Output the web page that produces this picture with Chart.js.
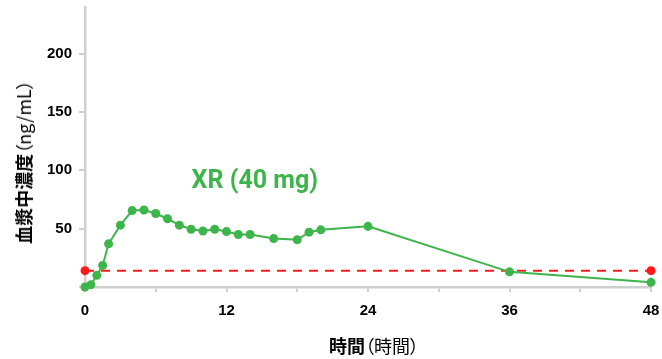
<!DOCTYPE html>
<html>
<head>
<meta charset="utf-8">
<script src="https://cdn.jsdelivr.net/npm/chart.js@4.4.1/dist/chart.umd.min.js"></script>
<style>
  html, body { margin: 0; padding: 0; background: #fff; }
  #wrap { position: relative; width: 662px; height: 359px; }
  canvas { position: absolute; left: 0; top: 0; }
  .ttl { position: absolute; white-space: nowrap; color: #000; font-size: 18px;
         font-family: "Noto Sans CJK JP", "Liberation Sans", sans-serif; font-feature-settings: "palt"; line-height: 1; }
  .ttl b { font-weight: 700; }
  .ttl span { font-weight: 400; }
  #ytitle { left: 23px; top: 162px; transform: translate(-50%, -50%) rotate(-90deg); }
  #xtitle { left: 374px; top: 345px; transform: translate(-50%, -50%); }
</style>
</head>
<body>
<div id="wrap">
  <canvas id="c" width="662" height="359"></canvas>
  <div class="ttl" id="ytitle"><b>血漿中濃度</b><span>（ng/mL）</span></div>
  <div class="ttl" id="xtitle"><b>時間</b><span>（時間）</span></div>
</div>
<script>
// ---- data ----
const hours = [0, 0.5, 1, 1.5, 2, 3, 4, 5, 6, 7, 8, 9, 10, 11, 12, 13, 14, 16, 18, 19, 20, 24, 36, 48];
const concentration = [0, 2, 10, 18.5, 37, 53, 65.5, 66, 63, 58.5, 53, 49.5, 48, 49.5, 47.5, 45, 45, 41.5, 40.5, 47, 49, 52, 13, 4];
const thresholdHours = [0, 48];
const thresholdValue = [14, 14];
const xTickLabels = [0, 12, 24, 36, 48];
const yTickLabels = [50, 100, 150, 200];
const seriesLabel = "XR (40 mg)";
const labelAnchor = { x: 14.4, y: 90 };

const green = '#3db54a';
const red = '#ff1a1a';
const axisGrey = '#cfcfcf';

const annotationPlugin = {
  id: 'seriesLabel',
  afterDatasetsDraw(chart) {
    const { ctx, scales } = chart;
    const px = scales.x.getPixelForValue(labelAnchor.x);
    const py = scales.y.getPixelForValue(labelAnchor.y);
    ctx.save();
    ctx.font = 'bold 25px Roboto, "Liberation Sans", sans-serif';
    ctx.fillStyle = green;
    ctx.textAlign = 'center';
    ctx.textBaseline = 'middle';
    ctx.fillText(seriesLabel, px, py);
    ctx.restore();
  }
};

new Chart(document.getElementById('c'), {
  type: 'line',
  data: {
    datasets: [
      {
        label: seriesLabel,
        data: hours.map((h, i) => ({ x: h, y: concentration[i] })),
        borderColor: green,
        backgroundColor: green,
        borderWidth: 2,
        pointRadius: 4.5,
        pointBorderWidth: 0,
        tension: 0,
        clip: false,
        order: 0
      },
      {
        label: 'threshold',
        data: thresholdHours.map((h, i) => ({ x: h, y: thresholdValue[i] })),
        borderColor: red,
        backgroundColor: red,
        borderWidth: 2,
        borderDash: [9, 7],
        pointRadius: 4.5,
        pointBorderWidth: 0,
        clip: false,
        order: 1
      }
    ]
  },
  plugins: [annotationPlugin],
  options: {
    responsive: false,
    animation: false,
    layout: { padding: { left: 40, right: 11, top: 7, bottom: 42 } },
    plugins: { legend: { display: false }, tooltip: { enabled: false } },
    scales: {
      x: {
        type: 'linear',
        min: 0, max: 48,
        afterFit(s) { s.height = 30; s.paddingLeft = 0; s.paddingRight = 0; },
        border: { color: axisGrey, width: 2.5 },
        grid: { drawOnChartArea: false, drawTicks: true, tickLength: 5, color: axisGrey, lineWidth: 2 },
        ticks: {
          stepSize: 6,
          padding: 10,
          maxRotation: 0,
          autoSkip: false,
          color: '#000',
          font: { family: '"Liberation Sans", Arial, sans-serif', size: 15, weight: 'bold' },
          callback: v => xTickLabels.includes(v) ? String(v) : ''
        }
      },
      y: {
        type: 'linear',
        min: 0, max: 240,
        afterFit(s) { s.width = 45; s.paddingTop = 0; s.paddingBottom = 0; },
        border: { color: axisGrey, width: 2.5 },
        grid: { drawOnChartArea: false, drawTicks: true, tickLength: 6, color: axisGrey, lineWidth: 2 },
        ticks: {
          stepSize: 50,
          includeBounds: false,
          padding: 7,
          color: '#000',
          font: { family: '"Liberation Sans", Arial, sans-serif', size: 15, weight: 'bold' },
          callback: v => yTickLabels.includes(v) ? String(v) : ''
        }
      }
    }
  }
});
</script>
</body>
</html>
